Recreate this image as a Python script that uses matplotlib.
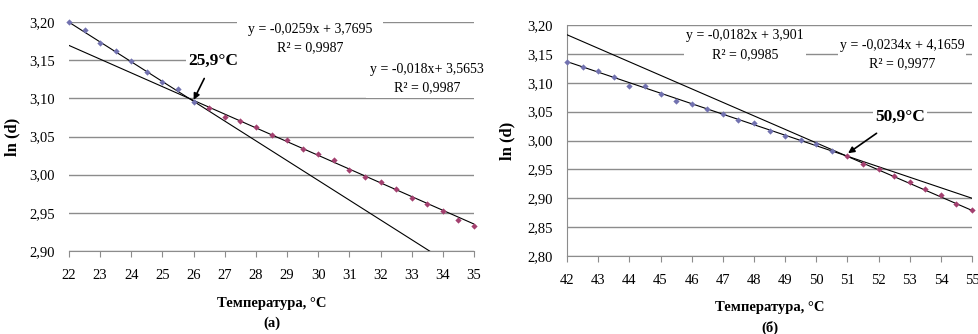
import matplotlib.pyplot as plt
from matplotlib.ticker import FuncFormatter

plt.rcParams['font.family'] = ['Liberation Serif', 'DejaVu Serif']

# (а) 22-35 °C
t_a1 = [22, 22.5, 23, 23.5, 24, 24.5, 25, 25.5, 26]
ln_a1 = [3.200, 3.190, 3.173, 3.162, 3.149, 3.134, 3.121, 3.112, 3.095]
t_a2 = [26.5, 27, 27.5, 28, 28.5, 29, 29.5, 30, 30.5, 31, 31.5, 32, 32.5,
        33, 33.5, 34, 34.5, 35]
ln_a2 = [3.087, 3.075, 3.070, 3.063, 3.052, 3.045, 3.034, 3.027, 3.019,
         3.006, 2.997, 2.991, 2.981, 2.969, 2.961, 2.952, 2.941, 2.933]
fit_a1 = (-0.0259, 3.7695)
fit_a2 = (-0.018, 3.5653)

# (б) 42-55 °C
t_b1 = [42, 42.5, 43, 43.5, 44, 44.5, 45, 45.5, 46, 46.5, 47, 47.5, 48,
        48.5, 49, 49.5, 50, 50.5]
ln_b1 = [3.136, 3.127, 3.120, 3.110, 3.095, 3.095, 3.081, 3.069, 3.064,
         3.055, 3.046, 3.035, 3.031, 3.016, 3.008, 3.001, 2.994, 2.981]
t_b2 = [51, 51.5, 52, 52.5, 53, 53.5, 54, 54.5, 55]
ln_b2 = [2.973, 2.959, 2.951, 2.938, 2.928, 2.916, 2.906, 2.890, 2.879]
fit_b1 = (-0.0182, 3.901)
fit_b2 = (-0.0234, 4.1659)

c1 = '#7272b0'
c2 = '#a3406f'
grid_c = '#8c8c8c'

comma = FuncFormatter(lambda v, p: f'{v:.2f}'.replace('.', ','))
box = dict(facecolor='white', edgecolor='none', pad=1.5)

fig = plt.figure(figsize=(9.79, 3.34), dpi=100)
axA = fig.add_axes([0.0705, 0.2485, 0.4137, 0.6856])
axB = fig.add_axes([0.5792, 0.2335, 0.4137, 0.6916])


def style(ax, xlim, ylim, yticks, left_spine):
    ax.set_xlim(*xlim)
    ax.set_ylim(*ylim)
    ax.set_xticks(range(xlim[0], xlim[1] + 1))
    ax.set_yticks(yticks)
    ax.yaxis.set_major_formatter(comma)
    ax.grid(axis='y', color=grid_c, linewidth=1)
    ax.set_axisbelow(True)
    for s in ['top', 'right']:
        ax.spines[s].set_visible(False)
    ax.spines['left'].set_visible(left_spine)
    ax.spines['left'].set_color(grid_c)
    ax.spines['bottom'].set_color(grid_c)
    ax.tick_params(axis='x', length=4, color=grid_c, pad=9, labelsize=10.5)
    ax.tick_params(axis='y', length=0, pad=10, labelsize=10.5)


def draw(ax, t1, y1, t2, y2, f1, f2, x0, x1):
    xs = [x0, x1]
    ax.plot(xs, [f1[0] * x + f1[1] for x in xs], color='black', lw=0.8, zorder=3)
    ax.plot(xs, [f2[0] * x + f2[1] for x in xs], color='black', lw=0.8, zorder=3)
    ax.plot(t1, y1, 'D', color=c1, ms=3.2, mec='none', zorder=4, clip_on=False)
    ax.plot(t2, y2, 'D', color=c2, ms=3.2, mec='none', zorder=4, clip_on=False)


style(axA, (22, 35), (2.90, 3.20), [2.90, 2.95, 3.00, 3.05, 3.10, 3.15, 3.20], False)
draw(axA, t_a1, ln_a1, t_a2, ln_a2, fit_a1, fit_a2, 22, 35)
axA.text(29.74, 3.178, 'y = -0,0259x + 3,7695\nR² = 0,9987', ha='center', va='center',
         fontsize=10, linespacing=1.55,
         bbox=dict(facecolor='white', edgecolor='none', pad=8), zorder=5)
axA.text(33.49, 3.126, 'y = -0,018x+ 3,5653\nR² = 0,9987', ha='center', va='center',
         fontsize=10, linespacing=1.55, bbox=dict(facecolor='white', edgecolor='none', pad=3),
         zorder=5, clip_on=False)
axA.annotate('25,9°C', xy=(26.0, 3.098), xytext=(26.62, 3.149), ha='center', va='center',
             fontsize=12.5, fontweight='bold', bbox=box, zorder=6,
             arrowprops=dict(arrowstyle='-|>', color='black', lw=1.2,
                             shrinkA=6, shrinkB=0, mutation_scale=9))
axA.set_ylabel('ln (d)', fontsize=12, fontweight='bold')
axA.yaxis.set_label_coords(-0.121, 0.5)

style(axB, (42, 55), (2.80, 3.20), [2.80, 2.85, 2.90, 2.95, 3.00, 3.05, 3.10, 3.15, 3.20], True)
draw(axB, t_b1, ln_b1, t_b2, ln_b2, fit_b1, fit_b2, 42, 55)
axB.text(47.71, 3.165, 'y = -0,0182x + 3,901\nR² = 0,9985', ha='center', va='center',
         fontsize=10, linespacing=1.55, bbox=box, zorder=5)
axB.text(52.75, 3.149, 'y = -0,0234x + 4,1659\nR² = 0,9977', ha='center', va='center',
         fontsize=10, linespacing=1.55, bbox=box, zorder=5, clip_on=False)
axB.annotate('50,9°C', xy=(51.02, 2.978), xytext=(52.69, 3.041), ha='center', va='center',
             fontsize=12.5, fontweight='bold', bbox=box, zorder=6,
             arrowprops=dict(arrowstyle='-|>', color='black', lw=1.2,
                             shrinkA=8, shrinkB=0, mutation_scale=9))
axB.set_ylabel('ln (d)', fontsize=12, fontweight='bold')
axB.yaxis.set_label_coords(-0.128, 0.5)

fig.text(271.5 / 979, 1 - 303 / 334, 'Температура, °С', ha='center', va='center',
         fontsize=10.5, fontweight='bold')
fig.text(271.5 / 979, 1 - 323 / 334, '(а)', ha='center', va='center',
         fontsize=10.5, fontweight='bold')
fig.text(769.5 / 979, 1 - 308 / 334, 'Температура, °С', ha='center', va='center',
         fontsize=10.5, fontweight='bold')
fig.text(769.5 / 979, 1 - 328 / 334, '(б)', ha='center', va='center',
         fontsize=10.5, fontweight='bold')

fig.savefig('out.png', dpi=100)
